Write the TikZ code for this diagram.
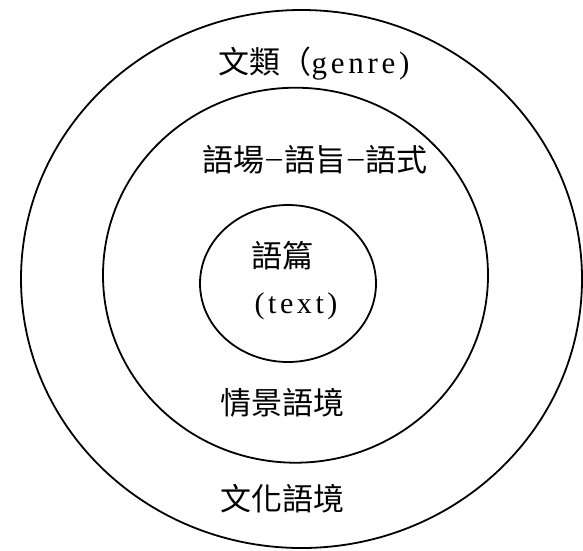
\documentclass[tikz,border=0pt]{standalone}
\usepackage{fontspec}
\setmainfont{Liberation Serif}
\newfontfamily\cjk{Noto Sans CJK TC}
\newfontfamily\latsp[LetterSpace=12]{Liberation Serif}
\newcommand\regdash{\makebox[0.63em]{\raisebox{0.15em}{\rmfamily –}}}
\begin{document}
\begin{tikzpicture}[x=1pt,y=-1pt,
  ring/.style={draw, line width=1.8pt},
  lbl/.style={inner sep=0pt, font=\cjk\fontsize{31}{36}\selectfont}]
\useasboundingbox (0,0) rectangle (583,550);
\draw[ring] (301.5,279) ellipse [x radius=280.5, y radius=269];
\draw[ring] (295.5,275.2) ellipse [x radius=192.5, y radius=187.5];
\draw[ring] (288,283.5) ellipse [x radius=88, y radius=78.5];
\node[lbl] (genre) at (314,64) {文類（{\latsp genre)}};
\node[lbl] (reg) at (315,160) {語場\regdash 語旨\regdash 語式};
\node[lbl] (text) at (282,256) {語篇};
\node[inner sep=0pt, font=\latsp\fontsize{30}{34}\selectfont] (texten) at (296,306) {(text)};
\node[lbl] (sit) at (282,403) {情景語境};
\node[lbl] (cul) at (282,499) {文化語境};
\end{tikzpicture}
\end{document}
